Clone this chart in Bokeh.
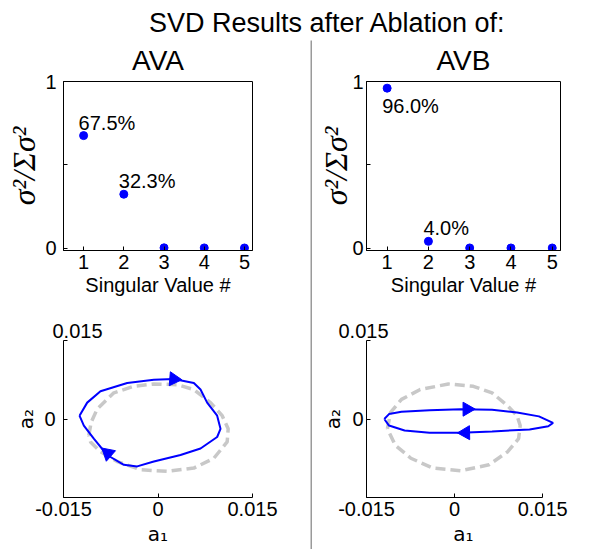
import math
from bokeh.plotting import figure
from bokeh.layouts import column, row
from bokeh.models import Range1d, FixedTicker, Label
from bokeh.embed import file_html
from bokeh.resources import INLINE
from bokeh.core.properties import value

# ---------------- data ----------------
SUPER_TITLE = "SVD Results after Ablation of:"
conditions = ["AVA", "AVB"]
sv_index = [1, 2, 3, 4, 5]
ava_energy = [0.675, 0.323, 0.0012, 0.0006, 0.0002]
avb_energy = [0.960, 0.040, 0.0003, 0.0002, 0.0001]
n_labeled = 2
top_yticks = [0, 0.5, 1]
top_ytick_labels = ["0", "", "1"]
sv_tick_labels = ["1", "2", "3", "4", "5"]
phase_ticks = [-0.015, 0, 0.015]
phase_xtick_labels = ["-0.015", "0", "0.015"]
phase_ytick_labels = ["", "0", ""]
phase_top_label = "0.015"

# AVA phase portrait (blue: after ablation, grey dashed: reference)
ava_a1 = [-0.01246, -0.01124, -0.00913, -0.00489, -0.00066, 0.00251, 0.00569, 0.00675,
          0.00780, 0.00939, 0.00992, 0.00939, 0.00675, 0.00357, -0.00066, -0.00331,
          -0.00542, -0.00807, -0.01019, -0.01177]
ava_a2 = [0.00063, 0.00313, 0.00531, 0.00688, 0.00750, 0.00763, 0.00688, 0.00563,
          0.00313, 0.00063, -0.00188, -0.00344, -0.00563, -0.00688, -0.00813, -0.00906,
          -0.00875, -0.00688, -0.00375, -0.00125]
ava_ref_a1 = [-0.01098, -0.01061, -0.00966, -0.00701, -0.00384, -0.00066, 0.00304, 0.00569,
              0.00833, 0.01019, 0.01114, 0.01098, 0.00886, 0.00569, 0.00146, -0.00278,
              -0.00648, -0.00913, -0.01071]
ava_ref_a2 = [-0.00313, -0.00063, 0.00188, 0.00500, 0.00625, 0.00669, 0.00656, 0.00563,
              0.00313, 0.00063, -0.00188, -0.00438, -0.00750, -0.00938, -0.01000, -0.00969,
              -0.00813, -0.00625, -0.00438]
ava_arrow_a1 = [0.00251, -0.00796]
ava_arrow_a2 = [0.00763, -0.00656]

# AVB phase portrait
avb_a1 = [-0.01197, -0.01117, -0.00904, -0.00426, 0.00106, 0.00638, 0.01064, 0.01436,
          0.01676, 0.01596, 0.01277, 0.00638, 0.00106, -0.00426, -0.00851, -0.01117]
avb_a2 = [0.0, 0.00094, 0.00138, 0.00169, 0.00188, 0.00175, 0.00125, 0.00050,
          -0.00075, -0.00138, -0.00200, -0.00238, -0.00263, -0.00263, -0.00219, -0.00125]
avb_ref_a1 = [-0.01144, -0.01090, -0.00904, -0.00585, -0.00106, 0.00319, 0.00638, 0.00904,
              0.01064, 0.01117, 0.01090, 0.00904, 0.00585, 0.00106, -0.00372, -0.00745,
              -0.01011]
avb_ref_a2 = [-0.00188, 0.00125, 0.00375, 0.00563, 0.00669, 0.00625, 0.00500, 0.00250,
              0.00063, -0.00125, -0.00375, -0.00625, -0.00875, -0.00988, -0.00938, -0.00750,
              -0.00500]
avb_arrow_a1 = [0.00213, 0.00186]
avb_arrow_a2 = [0.00188, -0.00263]

# ---------------- style ----------------
FONT = "Liberation Sans"
SERIF = "Liberation Serif"
SUBFONT = "DejaVu Sans"
BLUE = "#0000ff"
GREY = "#c8c8c8"
TICK_FS = "20px"

HEAD_H = 40      # super-title strip
TOP_H = 268      # SVD panels (incl. "AVA"/"AVB" titles)
BOT_H = 241      # phase panels
LEFT_W = 310
RIGHT_W = 288
DIV_W = 2


def style_axis(ax, ticks, labels, standoff):
    ax.ticker = FixedTicker(ticks=ticks)
    ax.major_label_overrides = {t: l for t, l in zip(ticks, labels)}
    ax.major_label_text_font = FONT
    ax.major_label_text_font_size = TICK_FS
    ax.major_label_text_color = "black"
    ax.major_label_standoff = standoff
    ax.major_tick_in = 4
    ax.major_tick_out = 0
    ax.minor_tick_line_color = None
    ax.axis_line_color = "black"
    ax.major_tick_line_color = "black"
    ax.axis_label_text_color = "black"


def base_fig(w, h, xr, yr, ml, mr, mt, mb, title=None):
    p = figure(width=w, height=h, x_range=xr, y_range=yr, output_backend="svg",
               toolbar_location=None, min_border_left=ml, min_border_right=mr,
               min_border_top=mt, min_border_bottom=mb, title=title)
    p.grid.visible = False
    p.background_fill_color = "white"
    p.border_fill_color = "white"
    return p


def text_strip(w, h, text, x_frac, baseline_px, size):
    # the label is anchored on the middle of its text box
    mid_px = baseline_px - 0.3465 * size
    p = figure(width=w, height=h, x_range=Range1d(0, 1), y_range=Range1d(0, 1),
               output_backend="svg", toolbar_location=None, min_border=0, title=None,
               x_axis_location=None, y_axis_location=None)
    p.grid.visible = False
    p.outline_line_color = None
    p.add_layout(Label(x=x_frac, y=(h - mid_px) / h, text=text, text_align="center",
                       text_baseline="middle", text_font=FONT,
                       text_font_size=f"{size}px", text_color="black"))
    return p


def svd_panel(name, energy, w, ml, mr, ylab_standoff, ytick_standoff):
    frame_top = 81 - HEAD_H
    fh = 169
    p = base_fig(w, TOP_H, Range1d(0.5, 5.2), Range1d(-0.015, 1.0), ml, mr,
                 frame_top, TOP_H - frame_top - fh, title=name)
    p.title.align = "center"
    p.title.vertical_align = "top"
    p.title.standoff = 7
    p.title.text_font = FONT
    p.title.text_font_size = "28px"
    p.title.text_font_style = "normal"
    p.title.text_color = "black"
    p.outline_line_color = "black"
    p.outline_line_alpha = 1
    style_axis(p.xaxis[0], sv_index, sv_tick_labels, 4)
    style_axis(p.yaxis[0], top_yticks, top_ytick_labels, ytick_standoff)
    p.xaxis.axis_label = "Singular Value #"
    p.xaxis.axis_label_text_font = FONT
    p.xaxis.axis_label_text_font_size = "20px"
    p.xaxis.axis_label_text_font_style = "normal"
    p.xaxis.axis_label_standoff = 2
    p.yaxis.axis_label = "σ²/Σσ²"
    p.yaxis.axis_label_text_font = SERIF
    p.yaxis.axis_label_text_font_size = "32px"
    p.yaxis.axis_label_text_font_style = "italic"
    p.yaxis.axis_label_standoff = ylab_standoff

    p.scatter(sv_index, energy, size=8, color=BLUE, marker="circle")
    lx, ly, ltxt, loff = [], [], [], []
    for i in range(n_labeled):
        lx.append(sv_index[i])
        ly.append(energy[i])
        ltxt.append(f"{energy[i] * 100:.1f}%")
        loff.append(18 if energy[i] > 0.9 else -13)
    p.text(x=lx, y=ly, text=ltxt, x_offset=-5, y_offset=loff,
           text_font=value(FONT), text_font_size="20px", text_color="black",
           text_align="left", text_baseline="middle")
    return p


def phase_panel(a1, a2, r1, r2, ar1, ar2, w, ml, x_end, fw, top_dx, ytick_standoff, ylab_standoff):
    mt = 32
    fh = 157
    p = base_fig(w, BOT_H, Range1d(phase_ticks[0], x_end), Range1d(phase_ticks[0], phase_ticks[-1]),
                 ml, w - ml - fw, mt, BOT_H - mt - fh, title=phase_top_label)
    p.outline_line_color = None
    # the "0.015" mark above the a2 axis
    p.title.align = "left"
    p.title.offset = top_dx
    p.title.standoff = 5
    p.title.text_font = FONT
    p.title.text_font_size = TICK_FS
    p.title.text_font_style = "normal"
    p.title.text_color = "black"

    style_axis(p.xaxis[0], phase_ticks, phase_xtick_labels, 4)
    style_axis(p.yaxis[0], phase_ticks, phase_ytick_labels, ytick_standoff)
    p.xaxis.bounds = (phase_ticks[0], phase_ticks[-1])
    p.yaxis.bounds = (phase_ticks[0], phase_ticks[-1])
    p.xaxis.axis_label = "a₁"
    p.yaxis.axis_label = "a₂"
    for ax in (p.xaxis[0], p.yaxis[0]):
        ax.axis_label_text_font = SUBFONT
        ax.axis_label_text_font_size = "20px"
        ax.axis_label_text_font_style = "normal"
    p.xaxis.axis_label_standoff = 3
    p.yaxis.axis_label_standoff = ylab_standoff

    p.line(r1 + r1[:1], r2 + r2[:1], line_color=GREY, line_width=3.5, line_dash="10 5")
    p.line(a1 + a1[:1], a2 + a2[:1], line_color=BLUE, line_width=2)

    # arrowheads, oriented along the curve (screen space)
    sx = fw / (x_end - phase_ticks[0])
    sy = fh / (phase_ticks[-1] - phase_ticks[0])
    n = len(a1)
    angles = []
    for x0, y0 in zip(ar1, ar2):
        i = min(range(n), key=lambda k: ((a1[k] - x0) * sx) ** 2 + ((a2[k] - y0) * sy) ** 2)
        dx = (a1[(i + 1) % n] - a1[i - 1]) * sx
        dy = (a2[(i + 1) % n] - a2[i - 1]) * sy
        angles.append(math.atan2(dy, dx) - math.pi / 2)
    p.scatter(ar1, ar2, marker="triangle", size=14, angle=angles,
              fill_color=BLUE, line_color=BLUE)
    return p


# ---------------- figures ----------------
head = text_strip(LEFT_W + DIV_W + RIGHT_W, HEAD_H, SUPER_TITLE, 327 / 600, 31.5, 27)

divider = figure(width=DIV_W, height=TOP_H + BOT_H, x_range=Range1d(0, 1),
                 y_range=Range1d(0, 1), output_backend="svg", toolbar_location=None,
                 min_border=0, title=None, x_axis_location=None, y_axis_location=None)
divider.grid.visible = False
divider.outline_line_color = None
divider.background_fill_color = "#9a9a9a"
divider.border_fill_color = "#9a9a9a"

tl = svd_panel(conditions[0], ava_energy, LEFT_W, 63, LEFT_W - 63 - 195, 0, 7)
tr = svd_panel(conditions[1], avb_energy, RIGHT_W, 53, RIGHT_W - 53 - 195, -5, 3)

bl = phase_panel(ava_a1, ava_a2, ava_ref_a1, ava_ref_a2, ava_arrow_a1, ava_arrow_a2,
                 LEFT_W, 63, phase_ticks[-1], 189, -11, 8, 3)
br_fw = 207
br_xend = phase_ticks[0] + br_fw * (phase_ticks[-1] - phase_ticks[0]) / 188
br = phase_panel(avb_a1, avb_a2, avb_ref_a1, avb_ref_a2, avb_arrow_a1, avb_arrow_a2,
                 RIGHT_W, 54, br_xend, br_fw, -28, 3, 4)

layout = column(head, row(column(tl, bl), divider, column(tr, br)))

with open("out.html", "w", encoding="utf-8") as f:
    f.write(file_html(layout, INLINE))
